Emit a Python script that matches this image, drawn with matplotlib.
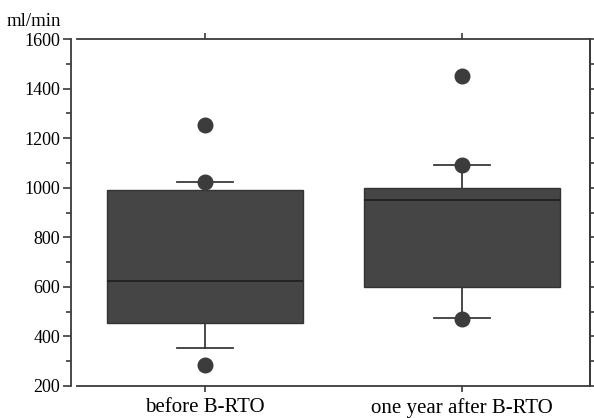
import matplotlib.pyplot as plt
from matplotlib.ticker import MultipleLocator

# box statistics (ml/min)
groups = ["before B-RTO", "one year after B-RTO"]
q1 = [455, 600]
medians = [622, 950]
q3 = [992, 1000]
whisker_low = [352, 475]
whisker_high = [1025, 1092]

# individual points drawn as dots
dot_group = [1, 1, 1, 2, 2, 2]
dot_values = [1255, 1025, 285, 1450, 1092, 472]

plt.rcParams['font.family'] = ['Liberation Serif', 'DejaVu Serif']

fig = plt.figure(figsize=(5.94, 4.18), dpi=100)
ax = fig.add_axes([77 / 594, 32 / 418, 513 / 594, 347 / 418])

line_col = '#3a3a3a'
box_col = '#454545'

stats = []
for i, name in enumerate(groups):
    stats.append(dict(label=name, q1=q1[i], med=medians[i], q3=q3[i],
                      whislo=whisker_low[i], whishi=whisker_high[i], fliers=[]))

ax.bxp(stats, positions=[1, 2], widths=0.765, patch_artist=True,
       showfliers=False,
       boxprops=dict(facecolor=box_col, edgecolor='#333333', linewidth=1.0),
       medianprops=dict(color='#1e1e1e', linewidth=1.2),
       whiskerprops=dict(color=line_col, linewidth=1.3),
       capprops=dict(color=line_col, linewidth=1.3),
       capwidths=0.22)

ax.plot(dot_group, dot_values, 'o', color='#3c3c3c', markersize=10.5,
        markeredgecolor='#3c3c3c', zorder=5, linestyle='none')

ax.set_xlim(0.5, 2.5)
ax.set_ylim(200, 1600)

ax.set_xticks([1, 2])
ax.set_xticklabels(groups, fontsize=15)
ax.yaxis.set_major_locator(MultipleLocator(200))
ax.yaxis.set_minor_locator(MultipleLocator(100))
ax.tick_params(axis='y', which='major', length=6, width=1.2, labelsize=13,
               color=line_col, pad=1.5)
ax.tick_params(axis='y', which='minor', length=3.5, width=1.2, color=line_col)
ax.tick_params(axis='x', length=4, width=1.2, color=line_col, labelsize=15,
               top=True, pad=5)

# right axis with ticks every 100
ax2 = ax.twinx()
ax2.set_ylim(200, 1600)
ax2.yaxis.set_major_locator(MultipleLocator(100))
ax2.tick_params(axis='y', length=3.5, width=1.2, color=line_col, labelright=False)
for s in ['left', 'top', 'bottom']:
    ax2.spines[s].set_visible(False)
ax2.spines['right'].set_color(line_col)
ax2.spines['right'].set_linewidth(1.3)

ax.spines['left'].set_position(('outward', 4.5))
for s in ax.spines.values():
    s.set_color(line_col)
    s.set_linewidth(1.3)

fig.text(7 / 594, 1 - 26 / 418, 'ml/min', fontsize=13.5, ha='left', va='baseline')

fig.savefig('out.png', dpi=100)
